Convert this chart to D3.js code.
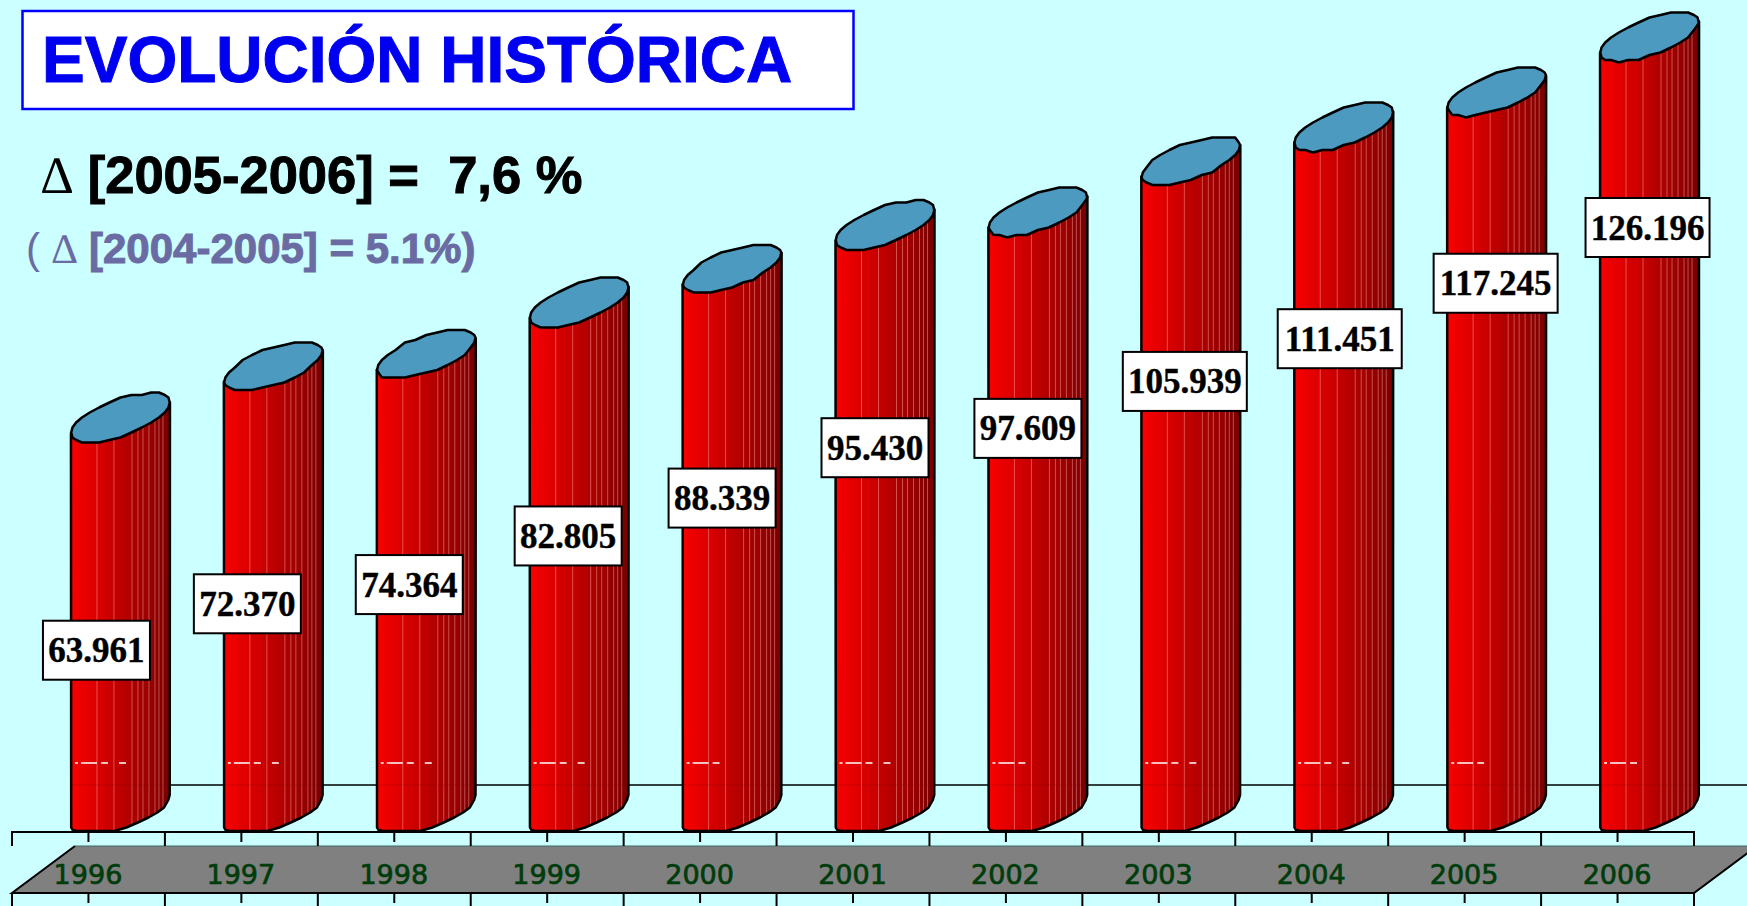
<!DOCTYPE html>
<html><head><meta charset="utf-8">
<script src="https://cdn.jsdelivr.net/npm/d3@7"></script>
<style>html,body{margin:0;padding:0;background:#ccffff;overflow:hidden}svg{display:block}</style>
</head><body>
<script>
// ---- data ----
const years = ["1996","1997","1998","1999","2000","2001","2002","2003","2004","2005","2006"];
const values = [63961,72370,74364,82805,88339,95430,97609,105939,111451,117245,126196];
const titleText = "EVOLUCIÓN HISTÓRICA";
const deltaSign = "∆";
const deltaMain = " [2005-2006] =  7,6 %";
const deltaPrevOpen = "( ";
const deltaPrev = " [2004-2005] = 5.1%)";
// ---- label layout (offset from band centre / bar top) ----
const labelShiftX = [8,6,15,21,22,22,22,26,28,31,30];
const labelDrop = [217,222,215,218,214,207,201,205,196,176,175];
const facetOffsets = [26,43,61,67,72,78,84,88,92];
const shortDash = ["2000","2002","2005","2006"];

const W=1747,H=906;
const svg=d3.select("body").append("svg").attr("width",W).attr("height",H);
svg.append("rect").attr("width",W).attr("height",H).attr("fill","#ccffff");

const x=d3.scaleBand().domain(years).range([12,1694]);
const y=d3.scaleLinear().domain([0,d3.max(values)]).range([824.5,52.5]);
const baseLeft=827;
const fmt=d3.formatLocale({decimal:",",thousands:".",grouping:[3],currency:["",""]}).format(",");

const defs=svg.append("defs");
const grad=defs.append("linearGradient").attr("id","barGrad");
[[0,"#ff0000"],[.04,"#f40000"],[.25,"#dc0000"],[.45,"#c40000"],[.62,"#ae0000"],[.8,"#980000"],[1,"#760000"]]
 .forEach(s=>grad.append("stop").attr("offset",s[0]).attr("stop-color",s[1]));

// title block
svg.append("rect").attr("x",22.5).attr("y",11).attr("width",831).attr("height",98)
   .attr("fill","#fff").attr("stroke","#0000ff").attr("stroke-width",2.5);
svg.append("text").attr("x",42).attr("y",82).text(titleText)
   .attr("font-family","Liberation Sans").attr("font-weight","bold").attr("font-size",64)
   .attr("fill","#0000f0").attr("stroke","#0000f0").attr("stroke-width",1);

function deltaLine(px,py,size,color,open,rest){
  const t=svg.append("text").attr("x",px).attr("y",py).style("white-space","pre")
    .attr("font-family","Liberation Sans").attr("font-weight","bold").attr("font-size",size).attr("fill",color)
    .attr("stroke",color).attr("stroke-width",1);
  if(open) t.append("tspan").attr("font-weight","normal").attr("stroke-width",0).text(open);
  t.append("tspan").attr("font-family","Liberation Serif").attr("font-weight","normal").attr("stroke-width",0).text(deltaSign);
  t.append("tspan").text(rest);
}
deltaLine(41,193,52.5,"#000","",deltaMain);
deltaLine(26,263,42,"#6b6ba3",deltaPrevOpen,deltaPrev);

// back floor line
svg.append("line").attr("x1",170).attr("x2",W).attr("y1",785).attr("y2",785).attr("stroke","#000").attr("stroke-width",1.5);

// axis band
const [r0,r1]=x.range(), slant=63, bandTop=846, bandBot=893;
svg.append("polygon").attr("points",[[r0,bandBot],[r0+slant,bandTop],[r1+slant,bandTop],[r1,bandBot]].join(" ")).attr("fill","#808080");
svg.append("line").attr("x1",r0+slant).attr("x2",W).attr("y1",bandTop).attr("y2",bandTop).attr("stroke","#3e6666").attr("stroke-width",1);
svg.append("path").attr("d",`M${r0+slant},${bandTop}L${r0},${bandBot}L${r1},${bandBot}L${r1+slant},${bandTop}`)
   .attr("fill","none").attr("stroke","#000").attr("stroke-width",2);

const axisG=svg.append("g").attr("stroke","#000").attr("stroke-width",2);
axisG.append("line").attr("x1",r0-1).attr("x2",r1+1).attr("y1",832).attr("y2",832);
const edges=years.map(d=>x(d)).concat([r1]);
axisG.selectAll(".maj").data(edges).join("line").attr("x1",d=>d).attr("x2",d=>d).attr("y1",832).attr("y2",846);
axisG.selectAll(".majb").data(edges).join("line").attr("x1",d=>d).attr("x2",d=>d).attr("y1",893).attr("y2",906);
const mid=d=>x(d)+x.bandwidth()/2;
axisG.selectAll(".mn").data(years).join("line").attr("x1",mid).attr("x2",mid).attr("y1",832).attr("y2",842);
axisG.selectAll(".mnb").data(years).join("line").attr("x1",mid).attr("x2",mid).attr("y1",893).attr("y2",903);

svg.append("g").selectAll("text").data(years).join("text")
   .attr("x",d=>mid(d)-0.5).attr("y",884).attr("text-anchor","middle").text(d=>d)
   .attr("font-family","DejaVu Sans").attr("font-size",27).attr("fill","#003c0c")
   .attr("stroke","#003c0c").attr("stroke-width",.7);

// cylinders
const a=52,b=18,th=-20*Math.PI/180,barW=99;
const t0=Math.atan(-(b/a)*Math.tan(th));
const hw=Math.sqrt(a*a*Math.cos(th)**2+b*b*Math.sin(th)**2);
const leftDy=(a*a-b*b)*Math.sin(-th)*Math.cos(th)/hw;
const snap=v=>Math.round(v/2.5)*2.5;
const pt=(cx,cy,t)=>[cx+a*Math.cos(t)*Math.cos(th)-b*Math.sin(t)*Math.sin(th),
                     cy+a*Math.cos(t)*Math.sin(th)+b*Math.sin(t)*Math.cos(th)];
const arc=(cx,cy,from,n)=>d3.range(n+1).map(i=>pt(cx,cy,from+i*Math.PI/n));
const line=d3.line();
const baseClip=831;

const bars=svg.append("g").selectAll("g").data(years.map((yr,i)=>({yr,v:values[i],i}))).join("g");
bars.each(function(d){
  const g=d3.select(this);
  const xL=mid(d.yr)-17.5, cx=xL+barW/2;
  const top=y(d.v), cyTop=top-leftDy, cyBase=baseLeft-leftDy;
  const lower=arc(cx,cyBase,t0,13).map(p=>[p[0],Math.min(snap(p[1]),baseClip)]);
  const outline=[[xL+barW,cyTop-leftDy],...lower,[xL,cyTop+leftDy]];
  const body=line(outline)+"Z";
  defs.append("clipPath").attr("id","clip"+d.i).append("path").attr("d",body);
  g.append("path").attr("d",body).attr("fill","url(#barGrad)");
  const inner=g.append("g").attr("clip-path",`url(#clip${d.i})`);
  inner.selectAll(".f").data(facetOffsets).join("line")
     .attr("x1",o=>xL+o).attr("x2",o=>xL+o).attr("y1",top-40).attr("y2",baseClip)
     .attr("stroke","#ffb0b0").attr("stroke-opacity",.45).attr("stroke-width",1);
  inner.append("line").attr("x1",xL).attr("x2",xL+barW).attr("y1",785).attr("y2",785)
     .attr("stroke","#800000").attr("stroke-opacity",.18).attr("stroke-width",1.5);
  g.append("line").attr("x1",xL+4).attr("x2",xL+(shortDash.includes(d.yr)?37:55)).attr("y1",763).attr("y2",763)
     .attr("stroke","#fff").attr("stroke-width",1.5).attr("stroke-dasharray",shortDash.includes(d.yr)?"3,3,16,4,7,11":"3,3,16,4,7,11,7,0");
  g.append("path").attr("d",body).attr("fill","none").attr("stroke","#000").attr("stroke-width",2.5).attr("stroke-linejoin","round");
  const rim=d3.range(28).map(k=>{const p=pt(cx,cyTop,t0+k*2*Math.PI/28);return [p[0],snap(p[1])];});
  g.append("path").attr("d",line(rim)+"Z").attr("fill","#4d9ac0").attr("stroke","#000").attr("stroke-width",2.5).attr("stroke-linejoin","round");
});

// value labels
const lab=svg.append("g").selectAll("g").data(years.map((yr,i)=>({yr,v:values[i],i}))).join("g")
   .attr("transform",d=>`translate(${mid(d.yr)+labelShiftX[d.i]},${y(d.v)+labelDrop[d.i]})`);
lab.append("rect").attr("x",d=>d.v>=100000?-62:-53.5).attr("width",d=>d.v>=100000?124:107)
   .attr("y",-29.5).attr("height",59).attr("fill","#fff").attr("stroke","#000").attr("stroke-width",2);
lab.append("text").attr("text-anchor","middle").attr("y",12).text(d=>fmt(d.v))
   .attr("font-family","Liberation Serif").attr("font-weight","bold").attr("font-size",35).attr("fill","#000")
   .attr("stroke","#000").attr("stroke-width",.4);
</script>
</body></html>
